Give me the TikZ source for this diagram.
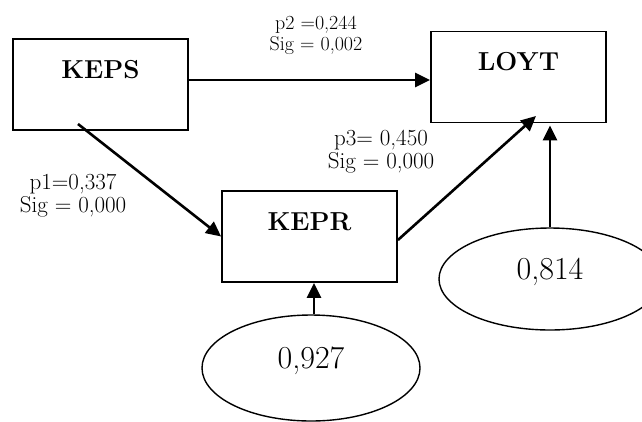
\documentclass[tikz,border=0pt]{standalone}
\usetikzlibrary{arrows.meta,shapes.geometric}
\tikzset{
  box/.style={draw, line width=1.8pt, rectangle, minimum width=175pt, minimum height=91pt,
    font=\fontsize{26}{30}\selectfont\bfseries, text height=18pt, text depth=31pt, inner sep=0pt},
  oval/.style={draw, line width=1.4pt, ellipse, inner sep=0pt,
    font=\fontsize{32}{36}\selectfont, text height=22pt, text depth=22pt},
  arr/.style={line width=2.6pt, -{Triangle[length=15pt,width=14pt]}},
  lab/.style={align=center, inner sep=0pt},
  lablarge/.style={lab, font=\fontsize{23}{23}\selectfont},
  labsmall/.style={lab, font=\fontsize{20}{21}\selectfont}
}
\begin{document}
\begin{tikzpicture}[x=1pt,y=-1pt]
\useasboundingbox (0,0) rectangle (642,421);
\node[box] (keps) at (100.5,84.5) {KEPS};
\node[box] (loyt) at (518.5,77) {LOYT};
\node[box] (kepr) at (309.5,236.5) {KEPR};
\node[oval, minimum width=222pt, minimum height=102pt] (e814) at (550,279) {0,814};
\node[oval, minimum width=218pt, minimum height=106pt] (e927) at (311,368) {0,927};

\node[labsmall] (l2) at (316,35) {p2 =0,244\\Sig = 0,002};
\node[lablarge] (l1) at (73,196) {p1=0,337\\Sig = 0,000};
\node[lablarge] (l3) at (381,152) {p3= 0,450\\Sig = 0,000};

\draw[arr] ([yshift=4.5pt]keps.east) -- ([yshift=-3pt]loyt.west);
\draw[arr] ([shift={(-22.5,39.5)}]keps.center) -- (kepr.west);
\draw[arr] ([shift={(0,3.5)}]kepr.east) -- ([shift={(17.5,39)}]loyt.center);
\draw[arr, shorten >=2pt] (e814.north) -- (e814.north |- loyt.south);
\draw[arr] ([xshift=3pt]e927.north) -- ([xshift=3pt]e927.north |- kepr.south);
\end{tikzpicture}
\end{document}
